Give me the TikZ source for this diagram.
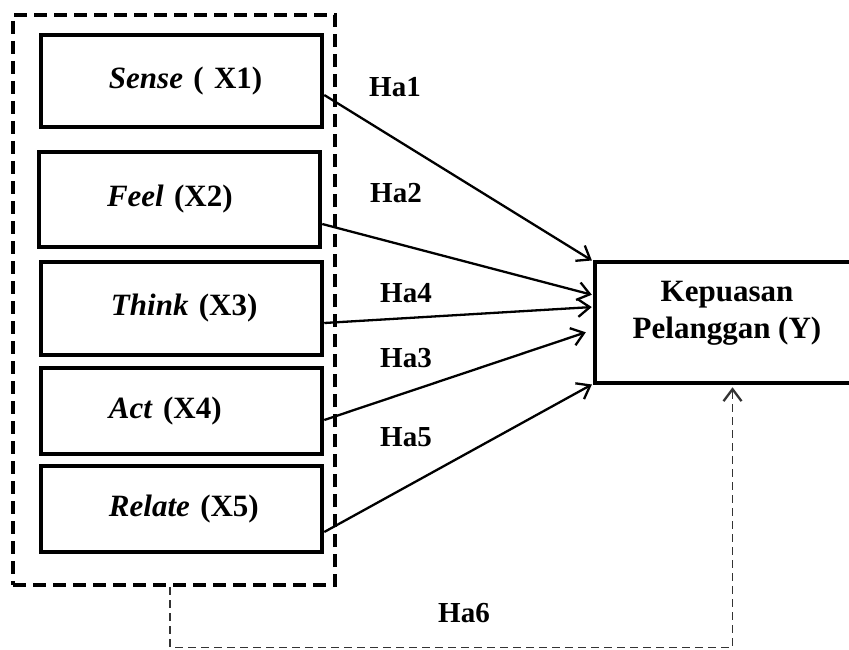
\documentclass[tikz,border=0pt]{standalone}
\usepackage{fontspec}
\setmainfont{Liberation Serif}
\usetikzlibrary{arrows.meta,calc}
\begin{document}
\begin{tikzpicture}[x=1pt,y=-1pt,
  box/.style={draw, line width=4.5pt, inner sep=0pt, text width=281pt, minimum width=281pt,
    align=left, font=\fontsize{31}{37}\selectfont\bfseries},
  grpbox/.style={draw, line width=4.5pt, dash pattern=on 13pt off 7pt, inner sep=0pt},
  ybox/.style={draw, line width=4.5pt, inner sep=0pt},
  ytext/.style={align=center, inner sep=0pt, font=\fontsize{31}{37}\selectfont\bfseries},
  hlabel/.style={inner sep=0pt, font=\fontsize{29}{34}\selectfont\bfseries},
  link/.style={line width=2.3pt, shorten >=1pt, -{Straight Barb[length=12pt,width=18pt]}},
  linkdash/.style={line width=1.4pt, draw=black!80, dash pattern=on 8pt off 5pt, shorten >=2pt,
    -{Straight Barb[length=12pt,width=18pt,line width=2.3pt]}}
]
\fill[white] (0,0) rectangle (849,650);
\useasboundingbox (0,0) rectangle (849,650);

% group
\node[grpbox, minimum width=322pt, minimum height=570pt] (grp) at (174,300) {};

% independent variable boxes
\node[box, minimum height=92pt] (sense) at (181.5,81) {\hspace*{68pt}\textit{Sense} ( X1)};
\node[box, minimum height=95pt] (feel) at (179.5,199.5) {\hspace*{68pt}\textit{Feel} (X2)};
\node[box, minimum height=93pt] (think) at (181.5,308.5) {\hspace*{70pt}\textit{Think} (X3)};
\node[box, minimum height=86pt] (act) at (181.5,411) {\hspace*{68pt}\textit{Act} (X4)};
\node[box, minimum height=86pt] (relate) at (181.5,509) {\hspace*{68pt}\textit{Relate} (X5)};

% dependent variable
\node[ybox, minimum width=275pt, minimum height=121pt] (ybox) at (732.5,322.5) {};
\node[ytext] (ytxt) at (727,313) {Kepuasan\\Pelanggan (Y)};

% connectors
\draw[link] (sense.east |- 0,95) -- (ybox.west |- 0,261);
\draw[link] (feel.east |- 0,224) -- (ybox.west |- 0,295);
\draw[link] (think.east |- 0,323) -- (ybox.west |- 0,307);
\draw[link] (act.east |- 0,420) -- ($(ybox.west |- 0,332)+(-6,0)$);
\draw[link] (relate.east |- 0,532) -- (ybox.west |- 0,384);
\draw[linkdash] ([xshift=-4pt]grp.south) -- ++(0,60) -| (ybox.south);

% labels
\node[hlabel] (h1) at (395,87) {Ha1};
\node[hlabel] (h2) at (396,193) {Ha2};
\node[hlabel] (h4) at (406,293) {Ha4};
\node[hlabel] (h3) at (406,358) {Ha3};
\node[hlabel] (h5) at (406,437) {Ha5};
\node[hlabel] (h6) at (464,613) {Ha6};
\end{tikzpicture}
\end{document}
